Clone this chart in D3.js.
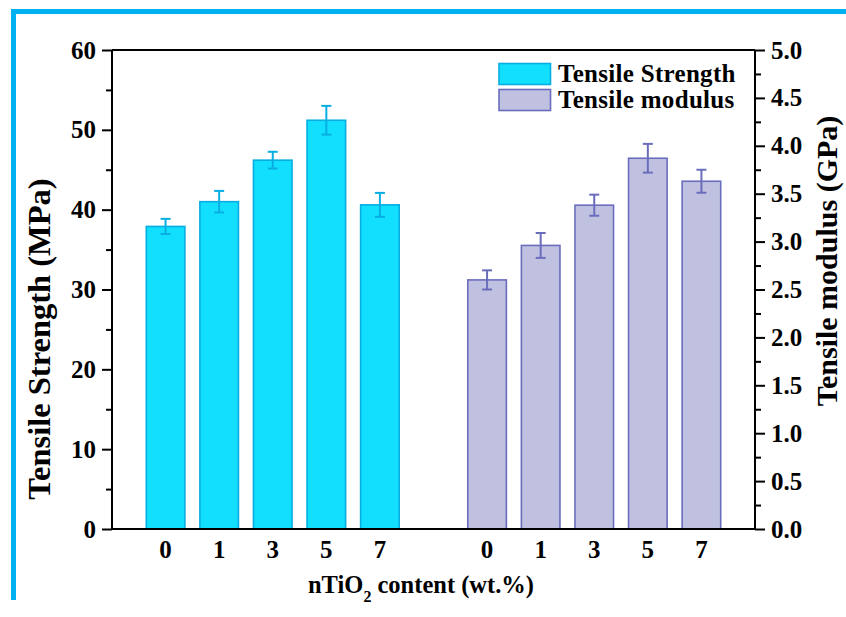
<!DOCTYPE html>
<html>
<head>
<meta charset="utf-8">
<script src="https://cdn.jsdelivr.net/npm/d3@7"></script>
<style>
  html, body { margin: 0; padding: 0; background: #fff; }
  svg { display: block; }
  text { font-family: "Liberation Serif", "Times New Roman", serif; font-weight: bold; fill: #000; }
</style>
</head>
<body>
<script>
// ---- data ----
const categories = ["0", "1", "3", "5", "7"];
const strength = [37.9, 41.0, 46.2, 51.2, 40.6];
const strengthErr = [0.95, 1.35, 1.05, 1.8, 1.5];
const modulus = [2.60, 2.96, 3.38, 3.87, 3.63];
const modulusErr = [0.10, 0.13, 0.11, 0.15, 0.12];
const leftTicks = [0, 10, 20, 30, 40, 50, 60];
const rightTicks = [0, 0.5, 1.0, 1.5, 2.0, 2.5, 3.0, 3.5, 4.0, 4.5, 5.0];
const seriesNames = ["Tensile Strength", "Tensile modulus"];

const W = 846, H = 617;
const L = 112, R = 755, T = 50, B = 529;

const svg = d3.select("body").append("svg").attr("width", W).attr("height", H);

// blue frame
svg.append("line").attr("x1", 11).attr("x2", W).attr("y1", 11.5).attr("y2", 11.5)
  .attr("stroke", "#00B0F0").attr("stroke-width", 5);
svg.append("line").attr("x1", 13.5).attr("x2", 13.5).attr("y1", 9).attr("y2", 600)
  .attr("stroke", "#00B0F0").attr("stroke-width", 5);

const x = d3.scaleLinear().domain([-1, 11]).range([L, R]);
const yL = d3.scaleLinear().domain([0, 60]).range([B, T]);
const yR = d3.scaleLinear().domain([0, 5]).range([B, T]);
const slot = x(1) - x(0);
const bw = slot * 0.72;

const colS = { fill: "#12DFFD", stroke: "#08AEE2" };
const colM = { fill: "#C0C1E1", stroke: "#6A6DBB" };

function drawSeries(vals, errs, y, offset, col) {
  const g = svg.append("g");
  vals.forEach((v, i) => {
    const cx = x(i + offset);
    g.append("rect").attr("x", cx - bw / 2).attr("y", y(v))
      .attr("width", bw).attr("height", y(0) - y(v))
      .attr("fill", col.fill).attr("stroke", col.stroke).attr("stroke-width", 1.6);
    const e = errs[i];
    g.append("line").attr("x1", cx).attr("x2", cx).attr("y1", y(v + e)).attr("y2", y(v - e))
      .attr("stroke", col.stroke).attr("stroke-width", 2);
    [v + e, v - e].forEach(yy => {
      g.append("line").attr("x1", cx - 5).attr("x2", cx + 5).attr("y1", y(yy)).attr("y2", y(yy))
        .attr("stroke", col.stroke).attr("stroke-width", 2);
    });
    svg.append("text").attr("x", cx).attr("y", 558).attr("text-anchor", "middle")
      .attr("font-size", 25).text(categories[i]);
  });
}
drawSeries(strength, strengthErr, yL, 0, colS);
drawSeries(modulus, modulusErr, yR, 6, colM);

// frame lines top/bottom
svg.append("line").attr("x1", L).attr("x2", R).attr("y1", T).attr("y2", T)
  .attr("stroke", "#000").attr("stroke-width", 2);
svg.append("line").attr("x1", L - 1).attr("x2", R + 1).attr("y1", B).attr("y2", B)
  .attr("stroke", "#000").attr("stroke-width", 2);

// left axis
const axL = svg.append("g").attr("transform", `translate(${L},0)`)
  .call(d3.axisLeft(yL).tickValues(leftTicks).tickSize(10).tickPadding(6).tickFormat(d3.format("d")));
const axLm = svg.append("g").attr("transform", `translate(${L},0)`)
  .call(d3.axisLeft(yL).tickValues(d3.range(5, 60, 10)).tickSize(6).tickFormat(""));
// right axis
const axR = svg.append("g").attr("transform", `translate(${R},0)`)
  .call(d3.axisRight(yR).tickValues(rightTicks).tickSize(10).tickPadding(6).tickFormat(d3.format(".1f")));
const axRm = svg.append("g").attr("transform", `translate(${R},0)`)
  .call(d3.axisRight(yR).tickValues(d3.range(0.25, 5, 0.5)).tickSize(6).tickFormat(""));

[axL, axLm, axR, axRm].forEach(a => {
  a.select(".domain").attr("stroke", "#000").attr("stroke-width", 2);
  a.selectAll(".tick line").attr("stroke", "#000").attr("stroke-width", 2);
  a.selectAll("text").attr("font-size", 25).attr("font-family", "Liberation Serif").attr("font-weight", "bold").attr("fill", "#000");
});
axL.select(".domain").attr("d", `M0,${T}V${B}`);
axR.select(".domain").attr("d", `M0,${T}V${B}`);
axLm.select(".domain").remove();
axRm.select(".domain").remove();

// axis titles
svg.append("text").attr("transform", "translate(50,339) rotate(-90)")
  .attr("text-anchor", "middle").attr("font-size", 32.5).text("Tensile Strength (MPa)");
svg.append("text").attr("transform", "translate(837,261) rotate(-90)")
  .attr("text-anchor", "middle").attr("font-size", 30).text("Tensile modulus (GPa)");
const xt = svg.append("text").attr("x", 421).attr("y", 593).attr("text-anchor", "middle").attr("font-size", 24.5);
xt.append("tspan").text("nTiO");
xt.append("tspan").attr("font-size", 16).attr("dy", 9).text("2");
xt.append("tspan").attr("dy", -9).text(" content (wt.%)");

// legend
const leg = [colS, colM];
leg.forEach((c, i) => {
  svg.append("rect").attr("x", 499).attr("y", 63.5 + i * 26).attr("width", 51.5).attr("height", 21)
    .attr("fill", c.fill).attr("stroke", c.stroke).attr("stroke-width", 1.6);
  svg.append("text").attr("x", 558).attr("y", 82 + i * 26).attr("font-size", 25)
    .attr("letter-spacing", 0.3).text(seriesNames[i]);
});
</script>
</body>
</html>
